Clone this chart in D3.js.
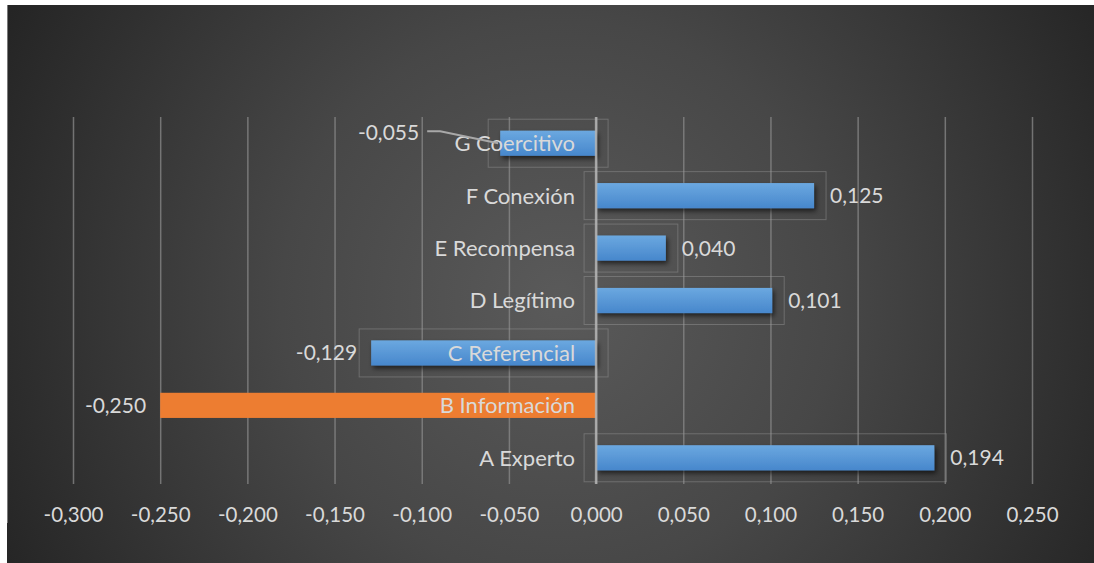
<!DOCTYPE html>
<html>
<head>
<meta charset="utf-8">
<script src="https://cdn.jsdelivr.net/npm/d3@7"></script>
<style>
  html, body { margin: 0; padding: 0; background: #ffffff; overflow: hidden; width: 1094px; height: 563px; }
  svg { display: block; }
  text { font-family: Lato, "Open Sans", sans-serif; fill: #d9d9d9; }
</style>
</head>
<body>
<svg id="chart" width="1094" height="563"></svg>
<script>
// Power-base scores per category
const categories = ["A Experto", "B Información", "C Referencial", "D Legítimo", "E Recompensa", "F Conexión", "G Coercitivo"];
const values = [0.194, -0.250, -0.129, 0.101, 0.040, 0.125, -0.055];
const highlighted = ["B Información"];
const tickValues = [-0.30, -0.25, -0.20, -0.15, -0.10, -0.05, 0.00, 0.05, 0.10, 0.15, 0.20, 0.25];

const data = categories.map((c, i) => ({ cat: c, v: values[i] }));

const W = 1094, H = 563;
const plot = { left: 73, right: 1032, top: 117, bottom: 484 };

const es = d3.formatLocale({ decimal: ",", thousands: ".", grouping: [3], currency: ["", ""], minus: "-" });
const fmt = es.format(".3f");

const svg = d3.select("#chart");
const defs = svg.append("defs");

// Dark radial backdrop
const bg = defs.append("radialGradient").attr("id", "bg")
  .attr("gradientUnits", "userSpaceOnUse")
  .attr("cx", 560).attr("cy", 300).attr("r", 620);
bg.append("stop").attr("offset", "0%").attr("stop-color", "#5a5a5a");
bg.append("stop").attr("offset", "45%").attr("stop-color", "#474747");
bg.append("stop").attr("offset", "100%").attr("stop-color", "#252525");

const barGrad = defs.append("linearGradient").attr("id", "barBlue")
  .attr("x1", 0).attr("y1", 0).attr("x2", 0).attr("y2", 1);
barGrad.append("stop").attr("offset", "0%").attr("stop-color", "#6ba8e0");
barGrad.append("stop").attr("offset", "100%").attr("stop-color", "#4787cc");

const shadow = defs.append("filter").attr("id", "shadow")
  .attr("x", "-10%").attr("y", "-50%").attr("width", "130%").attr("height", "220%");
shadow.append("feDropShadow").attr("dx", 2).attr("dy", 3).attr("stdDeviation", 2.5)
  .attr("flood-color", "#000").attr("flood-opacity", 0.6);

svg.append("rect").attr("x", 7).attr("y", 5).attr("width", W - 7).attr("height", H)
  .attr("fill", "url(#bg)");
svg.append("line").attr("x1", 7.5).attr("x2", 7.5).attr("y1", 5).attr("y2", 523)
  .attr("stroke", "#7a7a7a").attr("stroke-width", 1);

const x = d3.scaleLinear().domain([-0.30, 0.25]).range([plot.left, plot.right]);
const y = d3.scaleBand().domain(categories.slice().reverse())
  .range([plot.top, plot.bottom]).paddingInner(0.52).paddingOuter(0.26);

// Vertical gridlines and tick labels
const axis = d3.axisBottom(x).tickValues(tickValues).tickFormat(fmt)
  .tickSizeInner(-(plot.bottom - plot.top)).tickSizeOuter(0).tickPadding(23);
const gAxis = svg.append("g").attr("transform", `translate(0,${plot.bottom})`).call(axis);
gAxis.select(".domain").remove();
gAxis.selectAll(".tick line").attr("stroke", "#8a8a8a").attr("stroke-opacity", 0.75).attr("stroke-width", 1.5);
gAxis.selectAll(".tick text").attr("font-size", 20.5).attr("fill", "#d9d9d9")
  .style("font-family", "Lato, 'Open Sans', sans-serif");

const x0 = x(0);
const bh = y.bandwidth();

// Faint label frames around the blue bars
svg.append("g").selectAll("rect").data(data.filter(d => !highlighted.includes(d.cat))).join("rect")
  .attr("x", d => Math.min(x(d.v), x0) - 12)
  .attr("width", d => Math.abs(x(d.v) - x0) + 24)
  .attr("y", d => y(d.cat) + bh / 2 - 24)
  .attr("height", 48)
  .attr("fill", "none").attr("stroke", "#9a9a9a").attr("stroke-opacity", 0.45).attr("stroke-width", 1);

// Bars
svg.append("g").selectAll("rect").data(data).join("rect")
  .attr("x", d => Math.min(x(d.v), x0))
  .attr("width", d => Math.abs(x(d.v) - x0))
  .attr("y", d => y(d.cat))
  .attr("height", bh)
  .attr("fill", d => highlighted.includes(d.cat) ? "#ed7d31" : "url(#barBlue)")
  .attr("filter", d => highlighted.includes(d.cat) ? null : "url(#shadow)");

// Zero axis line
svg.append("line").attr("x1", x0).attr("x2", x0).attr("y1", plot.top).attr("y2", plot.bottom)
  .attr("stroke", "#b4b4b4").attr("stroke-opacity", 0.85).attr("stroke-width", 2.5);

// Category labels, right-aligned just left of zero
svg.append("g").selectAll("text").data(data).join("text")
  .attr("x", x0 - 21)
  .attr("y", d => y(d.cat) + bh / 2)
  .attr("dy", "0.36em")
  .attr("text-anchor", "end")
  .attr("font-size", 22)
  .text(d => d.cat);

// Value labels
const labelShift = { "G Coercitivo": -67 };
svg.append("g").selectAll("text").data(data).join("text")
  .attr("x", d => d.v >= 0 ? x(d.v) + 16 : x(d.v) - 14 + (labelShift[d.cat] || 0))
  .attr("y", d => y(d.cat) + bh / 2 + (d.cat === "G Coercitivo" ? -11 : 0))
  .attr("dy", "0.36em")
  .attr("text-anchor", d => d.v >= 0 ? "start" : "end")
  .attr("font-size", 21)
  .text(d => fmt(d.v));

// Leader line for the displaced label
const g = data.find(d => d.cat === "G Coercitivo");
const gy = y(g.cat) + bh / 2;
svg.append("path")
  .attr("d", `M${x(g.v) - 73},${gy - 12} L${x(g.v) - 60},${gy - 12} L${x(g.v) - 2},${gy}`)
  .attr("fill", "none").attr("stroke", "#a8a8a8").attr("stroke-width", 2);
</script>
</body>
</html>
